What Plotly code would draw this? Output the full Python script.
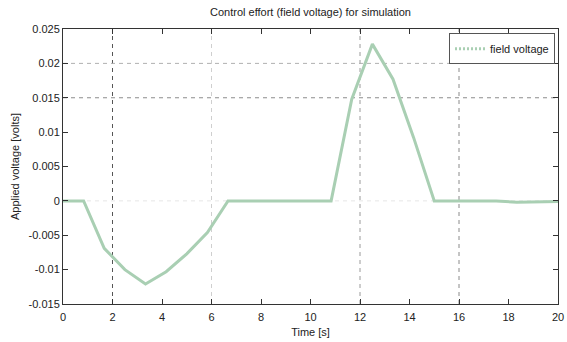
import plotly.graph_objects as go

# Data
time_s = [i * 20 / 24 for i in range(25)]
field_voltage = [0.0, 0.0, -0.0069, -0.0100, -0.0121, -0.0103, -0.0077, -0.0046,
                 0.0, 0.0, 0.0, 0.0, 0.0, 0.0, 0.0148, 0.0228, 0.0177, 0.0092,
                 0.0, 0.0, 0.0, 0.0, -0.0002, -0.0002, -0.0001]
x_ticks = [0, 2, 4, 6, 8, 10, 12, 14, 16, 18, 20]
y_ticks = [-0.015, -0.01, -0.005, 0, 0.005, 0.01, 0.015, 0.02, 0.025]
y_tick_labels = ["-0.015", "-0.01", "-0.005", "0", "0.005", "0.01", "0.015", "0.02", "0.025"]
# visible grid lines (as they appear in the reference) and their tones
x_grid = [2, 6, 12, 16]
x_grid_colors = ["#555555", "#cfcfcf", "#9a9a9a", "#8a8a8a"]
y_grid = [0.02, 0.015, 0]
y_grid_colors = ["#b0b0b0", "#8c8c8c", "#e6e6e6"]

line_color = "#a9cfb3"
font = "Liberation Sans, Arial, sans-serif"

fig = go.Figure()
fig.add_trace(go.Scatter(x=time_s, y=field_voltage, mode="lines",
                         line=dict(color=line_color, width=3), showlegend=False))
fig.add_trace(go.Scatter(x=[None], y=[None], mode="lines", name="field voltage",
                         line=dict(color=line_color, width=3, dash="2px,2px")))

shapes = []
for xv, c in zip(x_grid, x_grid_colors):
    shapes.append(dict(type="line", xref="x", yref="paper", x0=xv, x1=xv, y0=0, y1=1,
                       line=dict(color=c, width=1, dash="4px,4px"), layer="below"))
for yv, c in zip(y_grid, y_grid_colors):
    shapes.append(dict(type="line", xref="paper", yref="y", x0=0, x1=1, y0=yv, y1=yv,
                       line=dict(color=c, width=1, dash="4px,4px"), layer="below"))

fig.update_layout(
    width=567, height=342,
    margin=dict(l=63, r=9, t=29, b=38),
    paper_bgcolor="white", plot_bgcolor="white",
    font=dict(family=font, size=11, color="#222222"),
    title=dict(text="Control effort (field voltage) for simulation",
               x=(63 + 558) / 2 / 567, xanchor="center", y=1 - 12 / 342, yanchor="middle",
               font=dict(size=11, color="#222222")),
    shapes=shapes,
    legend=dict(x=0.994, xanchor="right", y=0.985, yanchor="top",
                bgcolor="white", bordercolor="#555555", borderwidth=1,
                font=dict(size=11), itemwidth=30, tracegroupgap=0),
    xaxis=dict(range=[0, 20], tickvals=x_ticks, showgrid=False, zeroline=False,
               showline=True, linecolor="#333333", linewidth=1, mirror="ticks",
               ticks="inside", ticklen=5, tickcolor="#333333", ticklabelstandoff=3,
               automargin=False,
               title=dict(text="Time [s]", standoff=6, font=dict(size=11))),
    yaxis=dict(range=[-0.015, 0.025], tickvals=y_ticks, ticktext=y_tick_labels,
               showgrid=False, zeroline=False, automargin=False,
               showline=True, linecolor="#333333", linewidth=1, mirror="ticks",
               ticks="inside", ticklen=5, tickcolor="#333333",
               title=dict(text="Applied voltage [volts]", standoff=6, font=dict(size=11))),
)

fig.write_html("out.html")
